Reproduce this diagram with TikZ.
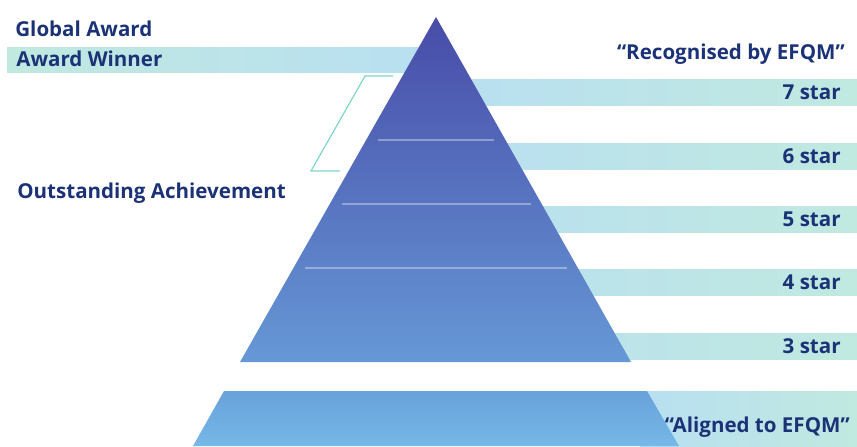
\documentclass[tikz,border=0pt]{standalone}
\usepackage{fontspec}
\setmainfont{Open Sans}
\definecolor{navy}{RGB}{28,50,118}
\definecolor{pyrtop}{RGB}{72,76,168}
\definecolor{pyrbot}{RGB}{102,152,214}
\definecolor{basetop}{RGB}{104,162,218}
\definecolor{basebot}{RGB}{118,184,231}
\definecolor{barblue}{RGB}{184,223,241}
\definecolor{barmint}{RGB}{192,233,224}
\definecolor{bracket}{RGB}{128,214,200}
\tikzset{
  bar/.style={left color=barblue, right color=barmint},
  tag/.style={text=navy, inner sep=0pt, font=\fontsize{11.7}{14}\selectfont\bfseries}
}
\begin{document}
\begin{tikzpicture}[x=0.02cm, y=-0.02cm]
            \useasboundingbox (0,0) rectangle (857,446);
            \coordinate (apex) at (436,17);
            \coordinate (bl) at (240,362);
            \coordinate (br) at (631,362);
            % bars behind the pyramid
            \shade[left color=barmint, right color=barblue] (7,48) rectangle (436,73);
            \foreach \n/\y in {7/79,6/143,5/206,4/269,3/333} {
                \shade[bar] (436,\y) rectangle (857,\y+26);
                \node[tag, anchor=base east] (s\n) at (841,\y+20) {\n\ star};
            }
            \shade[bar] (640,391) rectangle (857,446);
            % pyramid
            \shade[top color=pyrtop, bottom color=pyrbot] (apex) -- (bl) -- (br) -- cycle;
            \shade[top color=basetop, bottom color=basebot] (224,391) -- (647,391) -- (679,446) -- (193,446) -- cycle;
            \draw[white, opacity=0.35, line width=0.8pt] (378,140) -- (494,140) (342,204) -- (531,204) (305,268) -- (567,268);
            \draw[bracket, line width=0.7pt] (393,76) -- (365,76) -- (311,171) -- (340,171);
            % labels
            \node[tag, anchor=base west] (glob) at (15,37) {Global Award};
            \node[tag, anchor=base west] (winner) at (16,67) {Award Winner};
            \node[tag, anchor=base west] (outst) at (17,198) {Outstanding Achievement};
            \node[tag, anchor=base east] (recog) at (845,60) {“Recognised by EFQM”};
            \node[tag, anchor=base east] (align) at (850,432) {“Aligned to EFQM”};
        \end{tikzpicture}
\end{document}
